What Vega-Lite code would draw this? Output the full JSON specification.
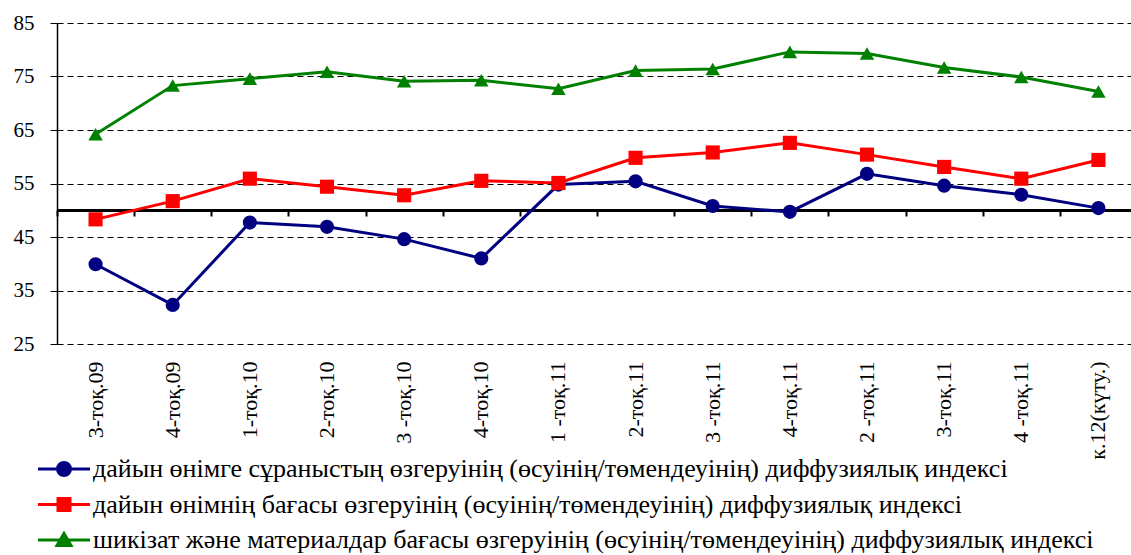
{
  "$schema": "https://vega.github.io/schema/vega-lite/v6.json",
  "width": 1074,
  "height": 321,
  "autosize": {"type": "none"},
  "padding": {"left": 57, "top": 23, "right": 0, "bottom": 211},
  "background": "white",
  "config": {
    "view": {"stroke": null},
    "font": "Liberation Serif",
    "axis": {"labelFont": "Liberation Serif", "labelColor": "black"},
    "legend": {"labelFont": "Liberation Serif", "labelColor": "black"}
  },
  "data": {
    "values": [
      {"q": "3-тоқ.09", "s": "A", "v": 39.9},
      {"q": "4-тоқ.09", "s": "A", "v": 32.3},
      {"q": "1-тоқ.10", "s": "A", "v": 47.7},
      {"q": "2-тоқ.10", "s": "A", "v": 46.9},
      {"q": "3 -тоқ.10", "s": "A", "v": 44.6},
      {"q": "4-тоқ.10", "s": "A", "v": 41.0},
      {"q": "1 -тоқ.11", "s": "A", "v": 54.8},
      {"q": "2-тоқ.11", "s": "A", "v": 55.4},
      {"q": "3 -тоқ.11", "s": "A", "v": 50.8},
      {"q": "4-тоқ.11", "s": "A", "v": 49.7},
      {"q": "2 -тоқ.11", "s": "A", "v": 56.8},
      {"q": "3-тоқ.11", "s": "A", "v": 54.6},
      {"q": "4 -тоқ.11", "s": "A", "v": 52.9},
      {"q": "к.12(күту.)", "s": "A", "v": 50.4},
      {"q": "3-тоқ.09", "s": "B", "v": 48.3},
      {"q": "4-тоқ.09", "s": "B", "v": 51.7},
      {"q": "1-тоқ.10", "s": "B", "v": 55.9},
      {"q": "2-тоқ.10", "s": "B", "v": 54.4},
      {"q": "3 -тоқ.10", "s": "B", "v": 52.8},
      {"q": "4-тоқ.10", "s": "B", "v": 55.5},
      {"q": "1 -тоқ.11", "s": "B", "v": 55.1},
      {"q": "2-тоқ.11", "s": "B", "v": 59.8},
      {"q": "3 -тоқ.11", "s": "B", "v": 60.8},
      {"q": "4-тоқ.11", "s": "B", "v": 62.6},
      {"q": "2 -тоқ.11", "s": "B", "v": 60.4},
      {"q": "3-тоқ.11", "s": "B", "v": 58.1},
      {"q": "4 -тоқ.11", "s": "B", "v": 55.9},
      {"q": "к.12(күту.)", "s": "B", "v": 59.4},
      {"q": "3-тоқ.09", "s": "C", "v": 64.2},
      {"q": "4-тоқ.09", "s": "C", "v": 73.3},
      {"q": "1-тоқ.10", "s": "C", "v": 74.6},
      {"q": "2-тоқ.10", "s": "C", "v": 75.9},
      {"q": "3 -тоқ.10", "s": "C", "v": 74.1},
      {"q": "4-тоқ.10", "s": "C", "v": 74.3},
      {"q": "1 -тоқ.11", "s": "C", "v": 72.7},
      {"q": "2-тоқ.11", "s": "C", "v": 76.1},
      {"q": "3 -тоқ.11", "s": "C", "v": 76.4},
      {"q": "4-тоқ.11", "s": "C", "v": 79.6},
      {"q": "2 -тоқ.11", "s": "C", "v": 79.3},
      {"q": "3-тоқ.11", "s": "C", "v": 76.7},
      {"q": "4 -тоқ.11", "s": "C", "v": 74.9},
      {"q": "к.12(күту.)", "s": "C", "v": 72.2}
    ]
  },
  "resolve": {"axis": {"x": "independent"}},
  "layer": [
    {
      "mark": {"type": "line", "strokeWidth": 3},
      "encoding": {
        "x": {
          "field": "q", "type": "ordinal", "sort": null,
          "scale": {"type": "band", "range": [0, 1080], "paddingInner": 0, "paddingOuter": 0},
          "axis": {"title": null, "orient": "bottom", "labelAngle": -90, "domain": false, "ticks": false, "grid": false,
                   "labelFont": "Liberation Serif", "labelFontSize": 22, "labelColor": "black", "labelPadding": 17}
        },
        "y": {
          "field": "v", "type": "quantitative",
          "scale": {"domain": [25, 85], "nice": false, "zero": false},
          "axis": {"title": null, "values": [25, 35, 45, 55, 65, 75, 85], "labelFont": "Liberation Serif",
                   "labelFontSize": 21, "labelColor": "black", "labelPadding": 16, "tickSize": 7, "tickColor": "black",
                   "domainColor": "black", "domainWidth": 1.5, "grid": true, "gridColor": "black", "gridDash": [6, 4],
                   "gridWidth": 1, "gridOpacity": 1}
        },
        "color": {
          "field": "s", "type": "nominal",
          "scale": {"domain": ["A", "B", "C"], "range": ["#000080", "#FF0000", "#008000"]},
          "legend": {
            "title": null, "orient": "none", "direction": "vertical", "legendX": -6, "legendY": 433, "padding": 0,
            "labelExpr": "['дайын өнімге сұраныстың өзгеруінің (өсуінің/төмендеуінің) диффузиялық  индексі', 'дайын өнімнің бағасы өзгеруінің (өсуінің/төмендеуінің) диффузиялық  индексі', 'шикізат және материалдар бағасы өзгеруінің (өсуінің/төмендеуінің) диффузиялық индексі'][indexof(['A','B','C'], datum.value)]",
            "labelFont": "Liberation Serif", "labelFontSize": 26, "labelColor": "black", "labelLimit": 0,
            "labelOffset": 16, "rowPadding": 9.5, "symbolSize": 400, "symbolStrokeWidth": 3,
            "encode": {
              "symbols": {
                "update": {
                  "shape": {"signal": "datum.value === 'A' ? 'M-2.6,0H2.6M-0.65,0A0.65,0.65,0,1,0,0.65,0A0.65,0.65,0,1,0,-0.65,0Z' : datum.value === 'B' ? 'M-2.6,0H2.6M-0.6,-0.6H0.6V0.6H-0.6Z' : 'M-2.6,0H2.6M0,-0.65L0.7,0.55H-0.7Z'"},
                  "fill": {"signal": "datum.value === 'A' ? '#000080' : datum.value === 'B' ? '#FF0000' : '#008000'"},
                  "stroke": {"signal": "datum.value === 'A' ? '#000080' : datum.value === 'B' ? '#FF0000' : '#008000'"},
                  "strokeWidth": {"value": 3},
                  "opacity": {"value": 1}
                }
              }
            }
          }
        }
      }
    },
    {
      "transform": [{"filter": "datum.s === 'A'"}],
      "mark": {"type": "point", "filled": true, "opacity": 1, "size": 200, "shape": "circle", "color": "#000080"},
      "encoding": {
        "x": {
          "field": "q", "type": "ordinal", "sort": null,
          "scale": {"type": "band", "range": [0, 1080], "paddingInner": 0, "paddingOuter": 0},
          "axis": {"title": null, "orient": "bottom", "labels": false, "domain": true, "domainColor": "black", "domainWidth": 3,
                   "ticks": true, "tickBand": "extent", "tickSize": 6, "tickWidth": 2, "tickColor": "black",
                   "offset": -134, "grid": false}
        },
        "y": {"field": "v", "type": "quantitative", "scale": {"domain": [25, 85], "nice": false, "zero": false}, "axis": {"title": null, "labelFont": "Liberation Serif", "labelFontSize": 21}}
      }
    },
    {
      "transform": [{"filter": "datum.s === 'B'"}],
      "mark": {"type": "point", "filled": true, "opacity": 1, "size": 200, "shape": "square", "color": "#FF0000"},
      "encoding": {
        "x": {"field": "q", "type": "ordinal", "sort": null, "scale": {"type": "band", "range": [0, 1080], "paddingInner": 0, "paddingOuter": 0}, "axis": null},
        "y": {"field": "v", "type": "quantitative", "scale": {"domain": [25, 85], "nice": false, "zero": false}, "axis": {"title": null, "labelFont": "Liberation Serif", "labelFontSize": 21}}
      }
    },
    {
      "transform": [{"filter": "datum.s === 'C'"}],
      "mark": {"type": "point", "filled": true, "opacity": 1, "size": 210, "shape": "triangle-up", "color": "#008000"},
      "encoding": {
        "x": {"field": "q", "type": "ordinal", "sort": null, "scale": {"type": "band", "range": [0, 1080], "paddingInner": 0, "paddingOuter": 0}, "axis": null},
        "y": {"field": "v", "type": "quantitative", "scale": {"domain": [25, 85], "nice": false, "zero": false}, "axis": {"title": null, "labelFont": "Liberation Serif", "labelFontSize": 21}}
      }
    }
  ]
}
